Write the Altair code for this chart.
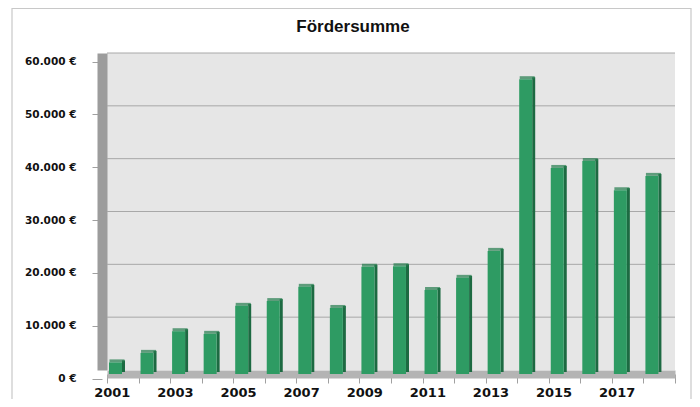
import altair as alt
import pandas as pd

title_text = "Fördersumme"
years = [str(y) for y in range(2001, 2019)]
values = [2200, 4000, 8100, 7600, 12900, 13800, 16500, 12500, 20300, 20400,
          15900, 18200, 23300, 55800, 39000, 40300, 34800, 37500]
grid_values = [10000, 20000, 30000, 40000, 50000, 60000]

W, H = 568, 317

df = pd.DataFrame({"Jahr": years, "Summe": values})
grid_df = pd.DataFrame({"v": grid_values})

x_enc = alt.X("Jahr:O", sort=years, title=None,
              scale=alt.Scale(paddingInner=0, paddingOuter=0),
              axis=alt.Axis(
                  orient="bottom", offset=4, domainWidth=8, domainColor="#b4b4b4",
                  tickBand="extent", tickOffset=-10, tickSize=9, tickColor="#a0a0a0",
                  labelAngle=0, labelPadding=3, labelOffset=-11, labelFont="DejaVu Sans",
                  labelFontWeight="bold", labelFontSize=13, labelColor="#111111",
                  labelExpr="toNumber(datum.value) % 2 == 1 ? datum.value : ''"))
y_scale = alt.Scale(domain=[0, 60000], nice=False)
y_enc = alt.Y("Summe:Q", scale=y_scale, title=None,
              axis=alt.Axis(
                  values=[0] + grid_values, grid=False, offset=5, domainWidth=10,
                  domainColor="#9c9c9c", tickSize=10, tickOffset=8.5, tickColor="#a0a0a0",
                  labelPadding=16, labelFont="DejaVu Sans", labelFontWeight="bold",
                  labelFontSize=10.5, labelColor="#111111",
                  labelExpr="replace(format(datum.value, ',.0f'), ',', '.') + ' €'"))

frame = alt.Chart(pd.DataFrame({"a": [0]})).mark_rect(
    fill="white", fillOpacity=0, stroke="#c8c8c8", strokeWidth=1.2
).encode(x=alt.value(-95), x2=alt.value(584), y=alt.value(-44.5), y2=alt.value(420))

title = alt.Chart(pd.DataFrame({"t": [title_text]})).mark_text(
    font="Liberation Sans", fontSize=17, fontWeight="bold", color="#111111",
    align="center", baseline="alphabetic"
).encode(text="t:N", x=alt.value(246), y=alt.value(-21))

grid = alt.Chart(grid_df).mark_rule(color="#a8a8a8", strokeWidth=1).encode(
    y=alt.Y("v:Q", scale=y_scale), x=alt.value(0), x2=alt.value(W))

base = alt.Chart(df)
side = base.mark_bar(width=3, xOffset=0.7, yOffset=2, color="#1d6a42").encode(
    x=x_enc, y=y_enc)
top = base.mark_tick(size=15, thickness=3, xOffset=-5.8, yOffset=2.5,
                     color="#237c4d", orient="horizontal").encode(
    x=alt.X("Jahr:O", sort=years), y=alt.Y("Summe:Q", scale=y_scale))
front = base.mark_bar(width=13, xOffset=-7.3, yOffset=4, color="#2e9b63").encode(
    x=alt.X("Jahr:O", sort=years), y=alt.Y("Summe:Q", scale=y_scale))

chart = alt.layer(frame, title, grid, side, top, front).properties(
    width=W, height=H,
    autosize=alt.AutoSizeParams(type="none"),
    padding={"left": 99, "top": 45, "right": 17, "bottom": 29},
).configure_view(fill="#e6e6e6", stroke=None)

chart.save("out.html", embed_options={"renderer": "svg", "actions": False})
